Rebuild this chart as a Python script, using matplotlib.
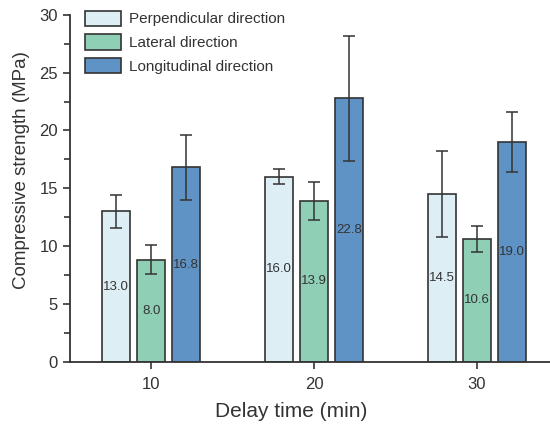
import numpy as np
import matplotlib.pyplot as plt
from matplotlib.ticker import MultipleLocator

plt.rcParams['font.family'] = ['Liberation Sans', 'DejaVu Sans']

delay = [10, 20, 30]
series = ['Perpendicular direction', 'Lateral direction', 'Longitudinal direction']
perp = [13.0, 16.0, 14.5]
perp_err = [1.45, 0.65, 3.75]
lat = [8.8, 13.9, 10.6]
lat_err = [1.25, 1.65, 1.1]
lon = [16.8, 22.8, 19.0]
lon_err = [2.8, 5.4, 2.6]
perp_lbl = ['13.0', '16.0', '14.5']
lat_lbl = ['8.0', '13.9', '10.6']
lon_lbl = ['16.8', '22.8', '19.0']

colors = ['#deeef5', '#8ecfb6', '#5f93c6']
edge = '#333333'

fig = plt.figure(figsize=(5.5, 4.25), dpi=100)
ax = fig.add_axes([0.127, 0.149, 0.873, 0.816])

x = np.array(delay, dtype=float)
w = 1.7
offs = [-2.15, 0, 2.15]
vals = [perp, lat, lon]
errs = [perp_err, lat_err, lon_err]
lbls = [perp_lbl, lat_lbl, lon_lbl]

for i in range(3):
    ax.bar(x + offs[i], vals[i], width=w, color=colors[i], edgecolor=edge,
           linewidth=1.2, label=series[i], zorder=2)
    ax.errorbar(x + offs[i], vals[i], yerr=errs[i], fmt='none', ecolor='#333333',
                elinewidth=1.1, capsize=4, capthick=1.1, zorder=3)
    for xi, v, t in zip(x + offs[i], vals[i], lbls[i]):
        ax.text(xi, v / 2, t, ha='center', va='center', fontsize=9.5, color='#333333', zorder=4)

ax.set_xlim(5, 34.5)
ax.set_ylim(0, 30)
ax.set_xticks(delay)
ax.yaxis.set_major_locator(MultipleLocator(5))
ax.yaxis.set_minor_locator(MultipleLocator(2.5))
for s in ['top', 'right']:
    ax.spines[s].set_visible(False)
for s in ['left', 'bottom']:
    ax.spines[s].set_linewidth(1.3)
    ax.spines[s].set_color('#333333')
ax.tick_params(axis='both', which='major', length=5, width=1.2, labelsize=12, colors='#333333')
ax.tick_params(axis='x', which='major', pad=6)
ax.tick_params(axis='y', which='minor', length=4, width=1.2, colors='#333333')
ax.set_xlabel('Delay time (min)', fontsize=15, color='#333333', va='center')
ax.set_ylabel('Compressive strength (MPa)', fontsize=13.5, color='#333333', va='center')
ax.xaxis.set_label_coords(0.461, -0.145)
ax.yaxis.set_label_coords(-0.1, 0.553)

leg = ax.legend(loc='upper left', bbox_to_anchor=(0.031, 1.012), frameon=False, fontsize=11,
                handlelength=2.4, handleheight=1.15, handletextpad=0.5, labelspacing=0.52,
                borderaxespad=0, borderpad=0)
for t in leg.get_texts():
    t.set_color('#333333')

fig.savefig('out.png', dpi=100)
